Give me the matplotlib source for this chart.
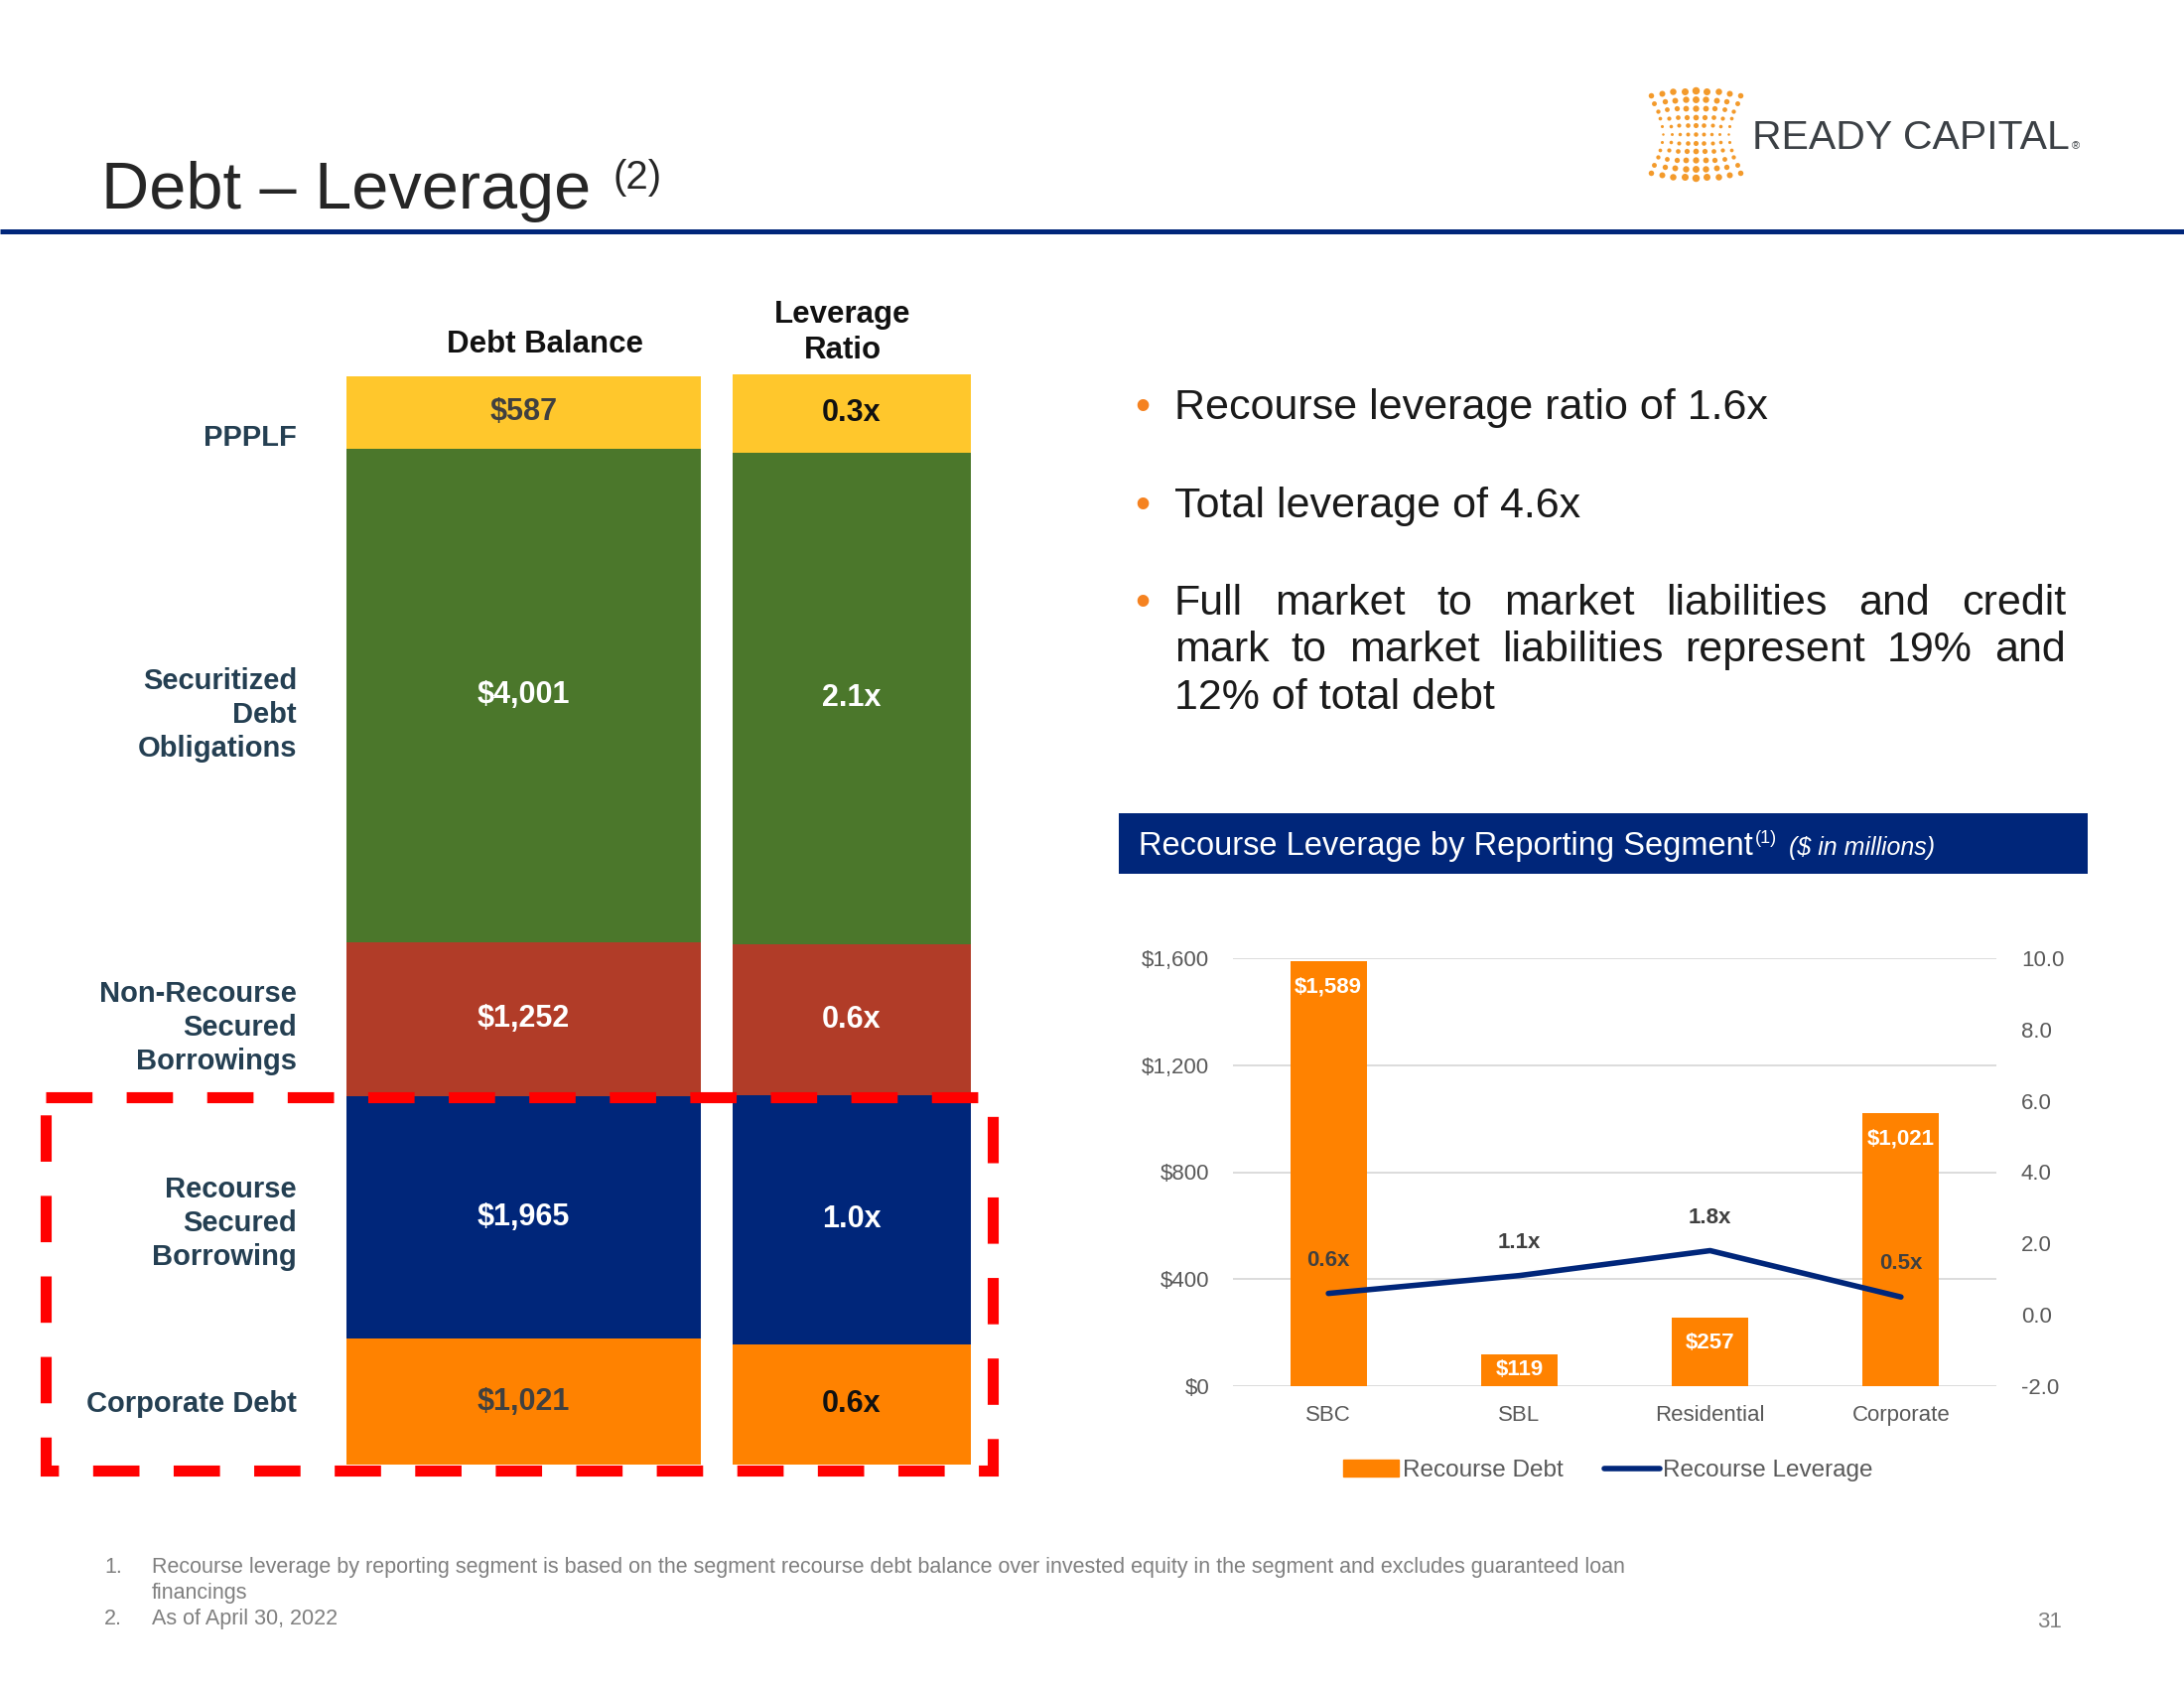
import numpy as np
import matplotlib.pyplot as plt
from matplotlib.patches import Rectangle, Patch
from matplotlib.lines import Line2D

plt.rcParams['font.family'] = ['Liberation Sans', 'DejaVu Sans']

# left columns: debt balance and leverage ratio, top to bottom
row_names = ['PPPLF', 'Securitized\nDebt\nObligations', 'Non-Recourse\nSecured\nBorrowings',
             'Recourse\nSecured\nBorrowing', 'Corporate Debt']
debt_balance = [587, 4001, 1252, 1965, 1021]
debt_labels = ['$587', '$4,001', '$1,252', '$1,965', '$1,021']
lev_ratio = [0.33, 2.08, 0.64, 1.05, 0.51]
lev_labels = ['0.3x', '2.1x', '0.6x', '1.0x', '0.6x']

# recourse leverage by reporting segment
segments = ['SBC', 'SBL', 'Residential', 'Corporate']
recourse_debt = [1589, 119, 257, 1021]
recourse_lev = [0.6, 1.1, 1.8, 0.5]
debt_ticks = [0, 400, 800, 1200, 1600]
lev_ticks = [-2, 0, 2, 4, 6, 8, 10]

bullet1 = 'Recourse leverage ratio of 1.6x'
bullet2 = 'Total leverage of 4.6x'
bullet3 = ['Full market to market liabilities and credit',
           'mark to market liabilities represent 19% and',
           '12% of total debt']
notes = ['Recourse leverage by reporting segment is based on the segment recourse debt balance over invested equity in the segment and excludes guaranteed loan',
         'financings', 'As of April 30, 2022']

NAVY = '#00267A'
ORANGE = '#FF8200'
seg_colors = ['#FFC72C', '#4B772B', '#B13C28', NAVY, ORANGE]
LABEL = '#243F52'
GRAY = '#595959'

W, H = 2200, 1700
fig = plt.figure(figsize=(22, 17), dpi=100)
renderer = fig.canvas.get_renderer()


def rect(x0, y0, x1, y1):
    return [x0 / W, 1 - y1 / H, (x1 - x0) / W, (y1 - y0) / H]


def stack(ax, vals, labels, tcolors):
    bottom = 0
    for v, lab, c, tc in zip(vals, labels, seg_colors, tcolors):
        ax.bar(0, v, bottom=bottom, width=1, color=c, lw=0)
        ax.text(0, bottom + v / 2, lab, ha='center', va='center', color=tc,
                fontsize=22, fontweight='bold')
        bottom += v
    ax.set_xlim(-0.5, 0.5)
    ax.set_ylim(bottom, 0)
    ax.axis('off')


ax_d = fig.add_axes(rect(349, 379, 706, 1475))
stack(ax_d, debt_balance, debt_labels, ['#404040', 'white', 'white', 'white', '#404040'])
ax_l = fig.add_axes(rect(738, 377, 978, 1475))
stack(ax_l, lev_ratio, lev_labels, ['#111111', 'white', 'white', 'white', '#111111'])

# combo chart
plot_h = 1396 - 965
ax_c = fig.add_axes(rect(1242, 965, 2011, 1396))
x = np.arange(len(segments))
ax_c.bar(x, recourse_debt, width=0.4, color=ORANGE, zorder=2)
for xi, v in zip(x, recourse_debt):
    off = min(26, v / 1600 * plot_h / 2) * 0.72
    ax_c.annotate(f'${v:,}', (xi, v), xytext=(0, -off), textcoords='offset points',
                  ha='center', va='center', color='white', fontsize=16, fontweight='bold', zorder=3)
ax_c.set_xlim(-0.5, len(segments) - 0.5)
ax_c.set_ylim(0, 1600)
ax_c.set_yticks(debt_ticks)
ax_c.set_yticklabels([f'${t:,}' for t in debt_ticks])
ax_c.set_xticks(x)
ax_c.set_xticklabels(segments)
ax_c.grid(axis='y', color='#D9D9D9', lw=1.3, zorder=0)
ax_c.set_axisbelow(True)
for s in ax_c.spines.values():
    s.set_visible(False)
ax_c.tick_params(length=0, labelsize=16, labelcolor=GRAY)
ax_c.tick_params(axis='y', pad=17)
ax_c.tick_params(axis='x', pad=14)

ax_r = ax_c.twinx()
ax_r.plot(x, recourse_lev, color=NAVY, lw=4, solid_capstyle='round')
for xi, v in zip(x, recourse_lev):
    ax_r.annotate(f'{v}x', (xi, v), xytext=(0, 24), textcoords='offset points',
                  ha='center', va='center', color='#404040', fontsize=16, fontweight='bold')
ax_r.set_ylim(-2, 10)
ax_r.set_yticks(lev_ticks)
ax_r.set_yticklabels([f'{t:.1f}' for t in lev_ticks])
for s in ax_r.spines.values():
    s.set_visible(False)
ax_r.tick_params(length=0, labelsize=16, labelcolor=GRAY, pad=18)

handles = [Patch(color=ORANGE), Line2D([], [], color=NAVY, lw=4, solid_capstyle='round')]
fig.legend(handles, ['Recourse Debt', 'Recourse Leverage'], loc='center',
           bbox_to_anchor=(1620 / W, 1 - 1481 / H), ncol=2, frameon=False, fontsize=17.5,
           handlelength=2.3, handletextpad=0.15, columnspacing=1.7, labelcolor=GRAY)

# overlay in pixel coordinates for page decoration and text
ov = fig.add_axes([0, 0, 1, 1], zorder=10)
ov.set_xlim(0, W)
ov.set_ylim(H, 0)
ov.axis('off')

t = ov.text(102, 210, 'Debt – Leverage', fontsize=48, color='#262626', va='baseline')
bb = t.get_window_extent(renderer)
ov.text(bb.x1 + 22, 190, '(2)', fontsize=29, color='#262626', va='baseline')
ov.plot([0, W], [233, 233], color=NAVY, lw=3.6, solid_capstyle='butt')

# logo
for r in range(-5, 6):
    for c in range(-4, 5):
        pinch = 0.72 + 0.28 * (abs(r) / 5) ** 1.5
        bulge = 1 + 0.12 * (1 - (c / 4) ** 2)
        d = 2.5 + 3.0 * abs(r) / 5 + 2.0 * (1 - abs(c) / 4)
        ov.scatter(1708 + c * 11.3 * pinch, 135 + r * 7.8 * bulge, s=(d * 0.72) ** 2,
                   color='#F39A2B', lw=0)
t = ov.text(1765, 150, 'READY CAPITAL', fontsize=29.5, color='#3B4045', va='baseline')
bb = t.get_window_extent(renderer)
ov.text(bb.x1 + 2, 150, '®', fontsize=8, color='#3B4045', va='baseline')

# column headers and row labels
ov.text(549, 347, 'Debt Balance', ha='center', va='center', fontsize=22.5,
        fontweight='bold', color='#111111')
ov.text(849, 335, 'Leverage\nRatio', ha='center', va='center', fontsize=22.5,
        fontweight='bold', color='#111111', linespacing=1.3)
for name, yc in zip(row_names, [441, 720, 1035, 1232, 1414]):
    ov.text(299, yc, name, ha='right', va='center', multialignment='right', fontsize=21,
            fontweight='bold', color=LABEL, linespacing=1.26)

ov.add_patch(Rectangle((45.5, 1104.5), 954.5, 376.5, fill=False, ec='#FF0000', lw=8,
                       ls=(0, (4.2, 3.1)), zorder=5))

# bullets
BFS = 31
for yb in [422, 521, 619]:
    ov.text(1143, yb, '•', fontsize=BFS, color='#F58220', va='baseline')


def justify(line, y, x0=1183, x1=2081):
    words = line.split()
    ts = [ov.text(0, y, w, fontsize=BFS, color='#1A1A1A', va='baseline') for w in words]
    widths = [tt.get_window_extent(renderer).width for tt in ts]
    gap = (x1 - x0 - sum(widths)) / (len(words) - 1)
    xx = x0
    for tt, w in zip(ts, widths):
        tt.set_x(xx)
        xx += w + gap


ov.text(1183, 422, bullet1, fontsize=BFS, color='#1A1A1A', va='baseline')
ov.text(1183, 521, bullet2, fontsize=BFS, color='#1A1A1A', va='baseline')
justify(bullet3[0], 619)
justify(bullet3[1], 666)
ov.text(1183, 714, bullet3[2], fontsize=BFS, color='#1A1A1A', va='baseline')

# segment header bar
ov.add_patch(Rectangle((1127, 819), 976, 61, color=NAVY, lw=0))
t = ov.text(1147, 861, 'Recourse Leverage by Reporting Segment', fontsize=23.5, color='white',
            va='baseline')
bb = t.get_window_extent(renderer)
t = ov.text(bb.x1 + 2, 849, '(1)', fontsize=13, color='white', va='baseline')
bb = t.get_window_extent(renderer)
ov.text(bb.x1 + 12, 861, '($ in millions)', fontsize=18, color='white', va='baseline',
        style='italic')

# footnotes
NFS = 15.5
ov.text(105, 1584, '1.', fontsize=NFS, color='#7F7F7F', va='baseline')
ov.text(153, 1584, notes[0], fontsize=NFS, color='#7F7F7F', va='baseline')
ov.text(153, 1610, notes[1], fontsize=NFS, color='#7F7F7F', va='baseline')
ov.text(105, 1636, '2.', fontsize=NFS, color='#7F7F7F', va='baseline')
ov.text(153, 1636, notes[2], fontsize=NFS, color='#7F7F7F', va='baseline')
ov.text(2077, 1639, '31', fontsize=16, color='#7F7F7F', va='baseline', ha='right')

fig.savefig('out.png', dpi=100)
